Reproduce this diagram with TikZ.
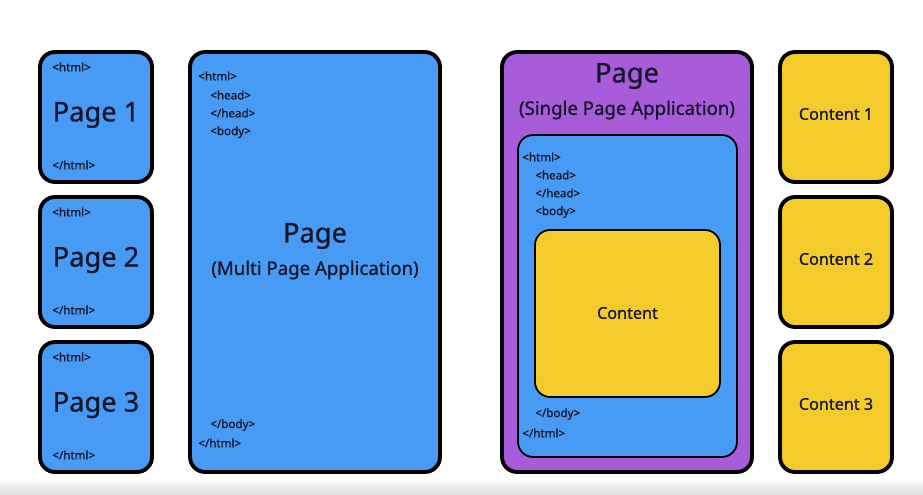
\documentclass[tikz,border=0pt]{standalone}
\usepackage{fontspec}
\setmainfont{Noto Sans}[FakeBold=0.8]
\usepackage{tikz}
\usetikzlibrary{positioning}
\definecolor{pageblue}{HTML}{479BF4}
\definecolor{spapurple}{HTML}{A95CDA}
\definecolor{contentyellow}{HTML}{F3CB2A}
\definecolor{inkdark}{HTML}{15152A}

\begin{document}
\begin{tikzpicture}[x=0.02cm, y=-0.02cm,
  card/.style={draw=black, line width=2.2pt, rounded corners=0.3cm, inner sep=0pt},
  inbox/.style={draw=black, line width=1pt, rounded corners=0.3cm, inner sep=0pt},
  tag/.style={font=\fontsize{6.6}{7}\selectfont, text=inkdark, inner sep=0pt, anchor=west},
  big/.style={font=\fontsize{15.5}{18}\selectfont, text=inkdark, inner sep=0pt},
  sub/.style={font=\fontsize{10.6}{13}\selectfont, text=inkdark, inner sep=0pt},
  lbl/.style={font=\fontsize{9.2}{11}\selectfont, text=inkdark, inner sep=0pt}]
\useasboundingbox (0,0) rectangle (923,494);
\shade[top color=white, bottom color=black!13] (0,478) rectangle (923,494);

% Separate pages
\foreach \i/\y in {1/117,2/262,3/407}{
  \node[card, fill=pageblue, minimum width=2.24cm, minimum height=2.6cm] (page\i) at (96,\y) {};
  \node[tag] (page\i-open) at (52,\y-50) {<html>};
  \node[big] (page\i-name) at (96,\y-2) {Page \i};
  \node[tag] (page\i-close) at (52,\y+48) {</html>};
}

% Multi page application
\node[card, fill=pageblue, minimum width=5cm, minimum height=8.4cm] (mpa) at (315,262) {};
\node[tag] (mpa-html) at (198,76) {<html>};
\node[tag] (mpa-head) at (210,95) {<head>};
\node[tag] (mpa-headend) at (210,113) {</head>};
\node[tag] (mpa-body) at (210,132) {<body>};
\node[big] (mpa-name) at (315,236) {Page};
\node[sub] (mpa-sub) at (315,270) {(Multi Page Application)};
\node[tag] (mpa-bodyend) at (210,425) {</body>};
\node[tag] (mpa-htmlend) at (198,443) {</html>};

% Single page application
\node[card, fill=spapurple, minimum width=5cm, minimum height=8.4cm] (spa) at (627,262) {};
\node[big] (spa-name) at (627,76) {Page};
\node[sub] (spa-sub) at (627,110) {(Single Page Application)};
\node[inbox, fill=pageblue, minimum width=4.38cm, minimum height=6.44cm] (spa-doc) at (627.5,296) {};
\node[tag] (spa-html) at (522,157) {<html>};
\node[tag] (spa-head) at (535,175) {<head>};
\node[tag] (spa-headend) at (535,193) {</head>};
\node[tag] (spa-body) at (535,212) {<body>};
\node[inbox, fill=contentyellow, minimum width=3.7cm, minimum height=3.34cm] (spa-content) at (627.5,313.5) {};
\node[lbl] (spa-content-name) at (627.5,313) {Content};
\node[tag] (spa-bodyend) at (535,414) {</body>};
\node[tag] (spa-htmlend) at (522,433) {</html>};

% Contents
\foreach \i/\y in {1/117,2/262,3/407}{
  \node[card, fill=contentyellow, minimum width=2.24cm, minimum height=2.6cm] (content\i) at (836,\y) {};
  \node[lbl] (content\i-name) at (836,\y-3) {Content \i};
}
\end{tikzpicture}
\end{document}
